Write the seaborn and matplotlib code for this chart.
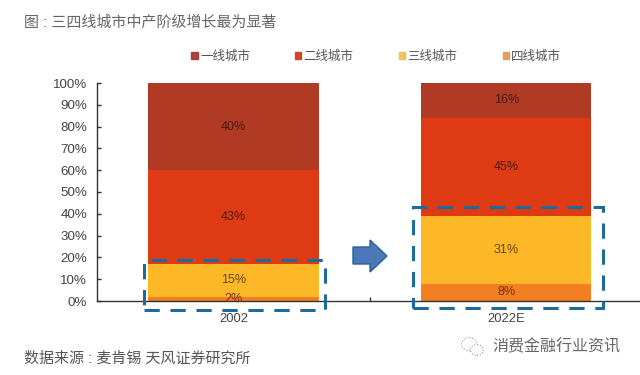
import matplotlib
matplotlib.use('Agg')
import matplotlib.pyplot as plt
from matplotlib.patches import Patch, Rectangle, Polygon, Ellipse
from matplotlib.ticker import FixedLocator, PercentFormatter
import numpy as np
import seaborn as sns

years = ['2002', '2022E']
tier4 = [2, 8]
tier3 = [15, 31]
tier2 = [43, 45]
tier1 = [40, 16]
names = ['一线城市', '二线城市', '三线城市', '四线城市']
c1, c2, c3, c4 = '#b03a24', '#de3a14', '#fdb827', '#f28022'

sns.set_theme(style='white')
plt.rcParams['font.family'] = ['Liberation Sans', 'Noto Sans CJK SC', 'DejaVu Sans']

W, H = 640, 375
fig = plt.figure(figsize=(6.4, 3.75), dpi=100)
ax = fig.add_axes([97 / W, (H - 301) / H, (W - 97) / W, 218 / H])


# everything outside the axes is placed in pixels of the picture
def px(x, y):
    return x / W, 1 - y / H


# stacked from the bottom up
bottom = np.zeros(2)
for vals, col in [(tier4, c4), (tier3, c3), (tier2, c2), (tier1, c1)]:
    sns.barplot(x=years, y=vals, bottom=bottom, color=col, saturation=1, width=0.624, linewidth=0, ax=ax)
    for i, v in enumerate(vals):
        lab_col = {c1: '#4a1c10', c2: '#4a1c10', c3: '#6a4414', c4: '#7a2a10'}[col]
        ax.text(i, bottom[i] + v / 2, f'{v}%', ha='center', va='center', fontsize=9, color=lab_col)
    bottom = bottom + np.array(vals)

ax.set_xlim(-0.5, 1.49)
ax.set_ylim(0, 100)
ax.yaxis.set_major_locator(FixedLocator(range(0, 101, 10)))
ax.yaxis.set_major_formatter(PercentFormatter(100, decimals=0))
ax.xaxis.set_minor_locator(FixedLocator([0.5]))
ax.tick_params(axis='y', direction='in', length=3, width=1, left=True, color='#333333',
               labelsize=9.6, labelcolor='#444444', pad=7)
ax.tick_params(axis='x', which='major', length=0, labelsize=9.4, labelcolor='#444444', pad=9)
ax.tick_params(axis='x', which='minor', direction='in', length=3, width=1, bottom=True, color='#333333')
for s in ['top', 'right']:
    ax.spines[s].set_visible(False)
for s in ['left', 'bottom']:
    ax.spines[s].set_color('#333333')
    ax.spines[s].set_linewidth(1)
ax.set_xlabel('')
ax.set_ylabel('')

handles = [Patch(color=c) for c in ['#a8403c', '#d2452a', '#ecc65c', '#e0a060']]
fig.legend(handles, names, ncol=4, loc='center left', bbox_to_anchor=px(180, 57), frameon=False,
           fontsize=9, labelcolor='#555555', handlelength=0.5, handleheight=0.5,
           handletextpad=0.2, columnspacing=3.6)

# dashed boxes round the lower tiers
for x0, y0, x1, y1 in [(144, 260, 325, 310), (413, 207, 603, 308)]:
    fig.add_artist(Rectangle(px(x0, y1), (x1 - x0) / W, (y1 - y0) / H, transform=fig.transFigure, fill=False,
                             edgecolor='#1f6a9c', linewidth=2.2, linestyle=(0, (5, 3.5)), zorder=5))

# arrow between the bars
arrow = [(353, 247), (370, 247), (370, 240), (387, 256), (370, 272), (370, 264), (353, 264)]
fig.add_artist(Polygon([px(a, b) for a, b in arrow], transform=fig.transFigure,
                       facecolor='#4a78b8', edgecolor='#2f5f94', linewidth=1))

fig.text(*px(24, 22), '图 : 三四线城市中产阶级增长最为显著', fontsize=10.8, color='#666666', va='center')
fig.text(*px(24, 359), '数据来源 : 麦肯锡 天风证券研究所', fontsize=10.8, color='#555555', va='center')
fig.text(*px(492, 347), '消费金融行业资讯', fontsize=11.5, color='#666666', va='center')

# small watermark icon
for cx, cy, w, h in [(469, 344, 15, 13), (477, 350, 13, 11)]:
    fig.add_artist(Ellipse(px(cx, cy), w / W, h / H, transform=fig.transFigure, facecolor='white',
                           edgecolor='#999999', linewidth=0.8, linestyle=':'))

fig.savefig('out.png', dpi=100)
